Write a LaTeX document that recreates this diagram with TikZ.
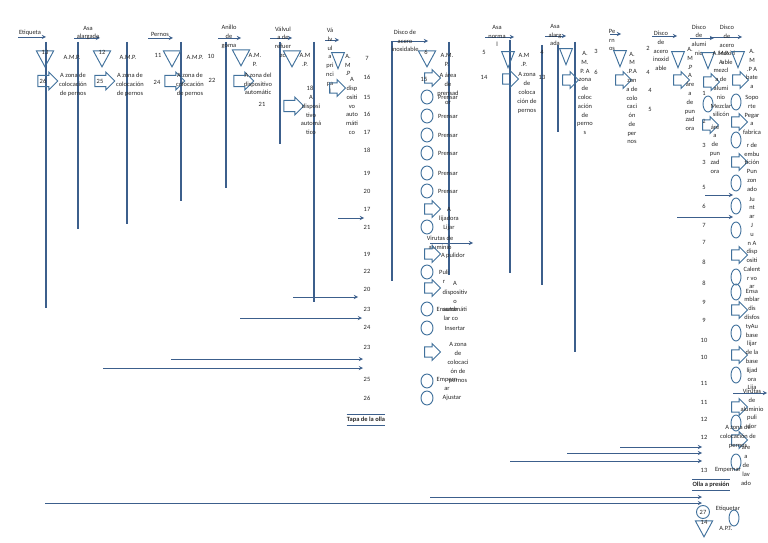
\documentclass[tikz,border=0pt]{standalone}
\usepackage{fontspec}
\setmainfont{Carlito}
\usetikzlibrary{shapes.geometric,shapes.arrows}
\definecolor{linea}{RGB}{60,95,140}
\definecolor{forma}{RGB}{65,113,156}

\begin{document}
\begin{tikzpicture}[x=0.3mm, y=-0.3mm,
  every node/.style={font=\fontsize{5.5}{7.5}\selectfont, text=black!85, inner sep=0pt, align=center},
  vert/.style={draw=linea, line width=1.2pt},
  flujo/.style={draw=linea, line width=0.6pt, ->, >=stealth},
  raya/.style={draw=linea, line width=1.2pt},
  tri/.style={draw=forma, line width=0.8pt, isosceles triangle, isosceles triangle stretches, shape border rotate=270, minimum width=5.2mm, minimum height=4.8mm},
  tric/.style={tri, minimum width=3.8mm},
  flecha/.style={draw=forma, line width=0.8pt, single arrow, minimum height=6mm, minimum width=5.4mm, inner xsep=0pt, inner ysep=1.5mm, single arrow head extend=1mm},
  flechac/.style={flecha, minimum height=4.8mm, minimum width=5mm, inner ysep=1.4mm},
  op/.style={draw=forma, line width=0.8pt, ellipse, minimum width=3.6mm, minimum height=4.2mm},
  opc/.style={op, minimum width=3mm, minimum height=4.8mm},
  titulo/.style={font=\fontsize{5.5}{7.5}\selectfont\bfseries}]

  \useasboundingbox (0,0) rectangle (768,543);

  % lineas verticales
  \coordinate (v1a) at (46,42); \coordinate (v1b) at (46,308);
  \coordinate (v2a) at (78,42); \coordinate (v2b) at (78,229);
  \coordinate (v3a) at (127,42); \coordinate (v3b) at (127,224);
  \coordinate (v4a) at (181,42); \coordinate (v4b) at (181,201);
  \coordinate (v5a) at (226,42); \coordinate (v5b) at (226,188);
  \coordinate (v6a) at (280,42); \coordinate (v6b) at (280,144);
  \coordinate (v7a) at (314,42); \coordinate (v7b) at (314,302);
  \coordinate (v8a) at (392,41); \coordinate (v8b) at (392,281);
  \coordinate (v9a) at (449,42); \coordinate (v9b) at (449,275);
  \coordinate (v10a) at (510,40); \coordinate (v10b) at (510,273);
  \coordinate (v11a) at (542,45); \coordinate (v11b) at (542,285);
  \coordinate (v12a) at (558,45); \coordinate (v12b) at (558,132);
  \coordinate (v13a) at (575,42); \coordinate (v13b) at (575,352);

  \draw[vert] (v1a) -- (v1b);
  \draw[vert] (v2a) -- (v2b);
  \draw[vert] (v3a) -- (v3b);
  \draw[vert] (v4a) -- (v4b);
  \draw[vert] (v5a) -- (v5b);
  \draw[vert] (v6a) -- (v6b);
  \draw[vert] (v7a) -- (v7b);
  \draw[vert] (v8a) -- (v8b);
  \draw[vert] (v9a) -- (v9b);
  \draw[vert] (v10a) -- (v10b);
  \draw[vert] (v11a) -- (v11b);
  \draw[vert] (v12a) -- (v12b);
  \draw[vert] (v13a) -- (v13b);

  % entradas de arriba
  \coordinate (e1a) at (18,37); \coordinate (e1b) at (46,37);
  \coordinate (e2a) at (74,38); \coordinate (e2b) at (100,38);
  \coordinate (e3a) at (148,38); \coordinate (e3b) at (173,38);
  \coordinate (e4a) at (218,38); \coordinate (e4b) at (241,38);
  \coordinate (e5a) at (270,38); \coordinate (e5b) at (292,38);
  \coordinate (e6a) at (325,40); \coordinate (e6b) at (339,40);
  \coordinate (e7a) at (392,41); \coordinate (e7b) at (428,41);
  \coordinate (e8a) at (485,37); \coordinate (e8b) at (514,37);
  \coordinate (e9a) at (545,36); \coordinate (e9b) at (566,36);
  \coordinate (e10a) at (610,34); \coordinate (e10b) at (621,34);
  \coordinate (e11a) at (652,36); \coordinate (e11b) at (677,36);
  \coordinate (e12a) at (690,38); \coordinate (e12b) at (714,38);
  \coordinate (e13a) at (710,37); \coordinate (e13b) at (742,37);

  \draw[flujo] (e1a) -- (e1b);
  \draw[flujo] (e2a) -- (e2b);
  \draw[flujo] (e3a) -- (e3b);
  \draw[flujo] (e4a) -- (e4b);
  \draw[flujo] (e5a) -- (e5b);
  \draw[flujo] (e6a) -- (e6b);
  \draw[flujo] (e7a) -- (e7b);
  \draw[flujo] (e8a) -- (e8b);
  \draw[flujo] (e9a) -- (e9b);
  \draw[flujo] (e10a) -- (e10b);
  \draw[flujo] (e11a) -- (e11b);
  \draw[flujo] (e12a) -- (e12b);
  \draw[flujo] (e13a) -- (e13b);

  % Etiqueta
  \node (eti) at (30,33) {Etiqueta};
  \node[tri] (t1) at (45,56) {};
  \node (n13a) at (45,52) {13};
  \node (amp1) at (72,57) {A.M.P.};
  \node[flecha] (f1) at (45,81) {};
  \node (n26) at (43,81) {26};
  \node (dest1) at (73,85) {A zona de\\colocación\\de pernos};

  % Asa alargada
  \node (asa1) at (88,33) {Asa\\alargada};
  \node[tri] (t2) at (102,56) {};
  \node (n12a) at (102,52) {12};
  \node (amp2) at (128,57) {A.M.P.};
  \node[flecha] (f2) at (102,81) {};
  \node (n25) at (100,81) {25};
  \node (dest2) at (130,85) {A zona de\\colocación\\de pernos};

  % Pernos
  \node (per1) at (160,34) {Pernos};
  \node (n11) at (158,55) {11};
  \node[tri] (t3) at (172,56) {};
  \node (amp3) at (195,57) {A.M.P.};
  \node (n24) at (157,82) {24};
  \node[flecha] (f3) at (172,81) {};
  \node (dest3) at (190,85) {A zona de\\colocación\\de pernos};

  % Anillo de goma
  \node (ani) at (229,37) {Anillo\\de\\goma};
  \node (n10) at (211,56) {10};
  \node[tri] (t4) at (241,55) {};
  \node (amp4) at (255,60) {A.M.\\P.};
  \node (n22a) at (212,80) {22};
  \node[flecha] (f4) at (241,81) {};
  \node (dest4) at (258,84) {A zona del\\dispositivo\\automátic};
  \node (n21a) at (262,104) {21};

  % Valvula de refuerzo
  \node (vre) at (283,42) {Válvul\\a de\\refuer\\zo};
  \node[tri] (t5) at (292,56) {};
  \node (amp5) at (305,60) {A.M\\.P.};
  \node (n18a) at (310,88) {18};
  \node[flecha] (f5) at (291,106) {};
  \node (dest5) at (311,115) {A\\disposi\\tivo\\automá\\tico};

  % Valvula principal
  \node (vpr) at (330,61) {Vá\\lv\\ul\\a\\pri\\nci\\pa\\l};
  \node[tric] (t6) at (338,57) {};
  \node (amp6) at (348,65) {A.\\M\\.P};
  \node[flechac] (f6) at (335,88) {};
  \node (dest6) at (352,106) {A\\disp\\ositi\\vo\\auto\\máti\\co};

  % numeros de la tapa
  \node (c1) at (367,58) {7};
  \node (c2) at (367,77) {16};
  \node (c3) at (367,97) {15};
  \node (c4) at (367,114) {16};
  \node (c5) at (367,132) {17};
  \node (c6) at (367,150) {18};
  \node (c7) at (367,173) {19};
  \node (c8) at (367,191) {20};
  \node (c9) at (367,209) {17};
  \node (c10) at (367,227) {21};
  \node (c11) at (367,254) {19};
  \node (c12) at (367,271) {22};
  \node (c13) at (367,289) {20};
  \node (c14) at (367,309) {23};
  \node (c15) at (367,327) {24};
  \node (c16) at (367,347) {23};
  \node (c17) at (367,379) {25};
  \node (c18) at (367,398) {26};

  % Disco de acero inoxidable
  \node (dac1) at (405,41) {Disco de\\acero\\inoxidable};
  \node[tri] (t7) at (427,56) {};
  \node (n6a) at (426,52) {6};
  \node (amp7) at (447,60) {A.M.\\P.};
  \node[flechac] (f7) at (430,78) {};
  \node (n15a) at (424,79) {15};
  \node (dest7) at (448,89) {A área\\de\\prensad\\or};
  \node[op] (p1) at (427,97) {};
  \node (pr1) at (448,97) {Prensar};
  \node[op] (p2) at (427,116) {};
  \node (pr2) at (448,116) {Prensar};
  \node[op] (p3) at (427,135) {};
  \node (pr3) at (448,135) {Prensar};
  \node[op] (p4) at (427,153) {};
  \node (pr4) at (448,153) {Prensar};
  \node[op] (p5) at (427,173) {};
  \node (pr5) at (448,173) {Prensar};
  \node[op] (p6) at (427,191) {};
  \node (pr6) at (448,191) {Prensar};
  \node[flechac] (f8) at (430,209) {};
  \node (lij) at (449,219) {A\\lijadora\\Lijar};
  \node[op] (p7) at (427,227) {};
  \node (vir1) at (440,243) {Virutas de\\aluminio};
  \node[flechac] (f9) at (430,254) {};
  \node (pul) at (453,256) {A pulidor};
  \node[op] (p8) at (427,272) {};
  \node (pulir) at (444,277) {Puli\\r};
  \node[flechac] (f10) at (430,288) {};
  \node (dest8) at (455,301) {A\\dispositiv\\o\\automáti\\co};
  \node[op] (p9) at (427,309) {};
  \node (ens) at (447,314) {Ensamb\\lar};
  \node[op] (p10) at (427,328) {};
  \node (ins) at (455,328) {Insertar};
  \node[flechac] (f11) at (430,352) {};
  \node (dest9) at (458,363) {A zona\\de\\colocaci\\ón de\\pernos};
  \node[op] (p11) at (427,381) {};
  \node (emp1) at (447,384) {Empern\\ar};
  \node[op] (p12) at (427,398) {};
  \node (aju) at (452,398) {Ajustar};

  \node[titulo] (tapa) at (366,420) {Tapa de la olla};
  \draw[raya] ([yshift=0.8mm]tapa.north west) -- ([yshift=0.8mm]tapa.north east);
  \draw[raya] ([yshift=-0.8mm]tapa.south west) -- ([yshift=-0.8mm]tapa.south east);

  % Asa normal
  \node (asa2) at (497,36) {Asa\\norma\\l};
  \node (n5a) at (484,52) {5};
  \node[tric] (t8) at (508,56) {};
  \node (amp8) at (524,60) {A.M\\.P.};
  \node (n14a) at (484,77) {14};
  \node[flechac] (f12) at (508,79) {};
  \node (dest10) at (527,93) {A zona\\de\\coloca\\ción de\\pernos};

  % Asa alargada
  \node (asa3) at (555,35) {Asa\\alarg\\ada};
  \node (n4a) at (542,52) {4};
  \node (n13b) at (542,77) {13};
  \node[tric] (t9) at (566,53) {};
  \node[flechac] (f13) at (568,80) {};
  \node (dest11) at (585,93) {A.\\M.\\P. A\\zona\\de\\coloc\\ación\\de\\perno\\s};
  \node (n3a) at (596,51) {3};
  \node (n6b) at (596,72) {6};

  % Pernos
  \node (per2) at (612,40) {Pe\\rn\\os};
  \node[tric] (t10) at (620,55) {};
  \node[flechac] (f14) at (621,80) {};
  \node (dest12) at (632,98) {A.\\M\\.P.A\\zon\\a de\\colo\\caci\\ón\\de\\per\\nos};
  \node (n2a) at (648,48) {2};
  \node (n4b) at (648,72) {4};
  \node (n4c) at (650,90) {4};
  \node (n5b) at (650,109) {5};

  % Disco de acero inoxidable
  \node (dac2) at (661,51) {Disco\\de\\acero\\inoxid\\able};
  \node[tric] (t11) at (678,56) {};
  \node[flechac] (f15) at (679,80) {};
  \node (dest13) at (690,89) {A.\\M\\.P\\A\\áre\\a\\de\\pun\\zad\\ora};

  % numeros de la olla
  \node (d1) at (704,93) {1};
  \node (d2) at (704,121) {2};
  \node (d3) at (704,145) {3};
  \node (d4) at (704,162) {3};
  \node (d5) at (704,187) {5};
  \node (d6) at (704,206) {6};
  \node (d7) at (704,225) {7};
  \node (d8) at (704,242) {7};
  \node (d9) at (704,262) {8};
  \node (d10) at (704,283) {8};
  \node (d11) at (704,302) {9};
  \node (d12) at (704,320) {9};
  \node (d13) at (704,340) {10};
  \node (d14) at (704,357) {10};
  \node (d15) at (704,383) {11};
  \node (d16) at (704,402) {11};
  \node (d17) at (704,419) {12};
  \node (d18) at (704,437) {12};
  \node (d19) at (704,470) {13};

  % Disco de aluminio
  \node (dal) at (699,40) {Disco\\de\\alumi\\nio};
  \node[tric] (t12) at (708,57) {};
  \node[flechac] (f16) at (709,82) {};
  \node[opc] (p13) at (708,104) {};
  \node[flechac] (f17) at (708,125) {};
  \node (dest14) at (721,84) {A.M.P.\\A\\mezcl\\a de\\alumi\\nio\\Mezclar\\silicón};
  \node (dest15) at (715,149) {áre\\a\\de\\pun\\zad\\ora};

  % Disco de acero inoxidable
  \node (dac3) at (727,45) {Disco\\de\\acero\\inoxid\\able};
  \node[tric] (t13) at (738,56) {};
  \node[flechac] (f18) at (738,80) {};
  \node[opc] (q1) at (736,102) {};
  \node[flechac] (f19) at (737,122) {};
  \node[opc] (q2) at (736,140) {};
  \node[flechac] (f20) at (737,162) {};
  \node[opc] (q3) at (736,183) {};
  \node[opc] (q4) at (736,206) {};
  \node[opc] (q5) at (736,230) {};
  \node[flechac] (f21) at (737,255) {};
  \node[opc] (q6) at (736,277) {};
  \node[opc] (q7) at (736,292) {};
  \node[flechac] (f22) at (737,310) {};
  \node[opc] (q8) at (736,333) {};
  \node[flechac] (f23) at (737,355) {};
  \node[opc] (q9) at (736,375) {};
  \node[flechac] (f24) at (737,407) {};
  \node[opc] (q10) at (736,423) {};
  \node[flechac] (f25) at (737,440) {};
  \node[opc] (q11) at (736,462) {};
  \node[opc] (q12) at (734,518) {};
  \node (dest16) at (752,69) {A.\\M\\.P A\\bate\\a};
  \node (dest17) at (752,115) {Sopo\\rte\\Pegar\\a\\fabrica};
  \node (dest18) at (752,167) {r de\\embu\\tición\\Pun\\zon\\ado};
  \node (dest19) at (752,243) {Ju\\nt\\ar\\J\\u\\n A\\disp\\ositi\\Calent\\r vo\\ar};
  \node (dest20) at (752,340) {Ensa\\mblar\\dis\\disfos\\tyAu\\base\\lijar\\de la\\base\\lijad\\ora\\Lija};
  \node (vir2) at (752,409) {Virutas\\de\\aluminio\\puli\\dor};
  \node (dest21) at (738,437) {A zona de\\colocación de\\pernos};
  \node (dest22) at (746,466) {are\\a\\de\\lav\\ado};
  \node (emp2) at (728,470) {Empernar};

  \node[titulo] (olla) at (711,485) {Olla a presión};
  \draw[raya] ([yshift=0.8mm]olla.north west) -- ([yshift=0.8mm]olla.north east);
  \draw[raya] ([yshift=-0.8mm]olla.south west) -- ([yshift=-0.8mm]olla.south east);

  \node[circle, draw=forma, line width=0.8pt, minimum size=3.9mm] (c27) at (703,512) {27};
  \node (etq) at (728,509) {Etiquetar};
  \node[tri] (t14) at (704,526) {};
  \node (n14b) at (704,522) {14};
  \node (apt) at (726,528) {A.P.T.};

  % entradas laterales
  \coordinate (h1a) at (338,218); \coordinate (h1b) at (364,218);
  \coordinate (h2a) at (293,297); \coordinate (h2b) at (358,297);
  \coordinate (h3a) at (240,318); \coordinate (h3b) at (362,318);
  \coordinate (h4a) at (171,359); \coordinate (h4b) at (363,359);
  \coordinate (h5a) at (103,368); \coordinate (h5b) at (363,368);
  \coordinate (h6a) at (430,243); \coordinate (h6b) at (473,243);
  \coordinate (h7a) at (705,195); \coordinate (h7b) at (733,195);
  \coordinate (h8a) at (677,217); \coordinate (h8b) at (733,217);
  \coordinate (h9a) at (733,393); \coordinate (h9b) at (767,393);
  \coordinate (h10a) at (620,447); \coordinate (h10b) at (702,447);
  \coordinate (h11a) at (567,453); \coordinate (h11b) at (702,453);
  \coordinate (h12a) at (510,461); \coordinate (h12b) at (702,461);
  \coordinate (h13a) at (430,497); \coordinate (h13b) at (702,497);
  \coordinate (h14a) at (45,503); \coordinate (h14b) at (702,503);

  \draw[flujo] (h1a) -- (h1b);
  \draw[flujo] (h2a) -- (h2b);
  \draw[flujo] (h3a) -- (h3b);
  \draw[flujo] (h4a) -- (h4b);
  \draw[flujo] (h5a) -- (h5b);
  \draw[flujo] (h6a) -- (h6b);
  \draw[flujo] (h7a) -- (h7b);
  \draw[flujo] (h8a) -- (h8b);
  \draw[flujo] (h9a) -- (h9b);
  \draw[flujo] (h10a) -- (h10b);
  \draw[flujo] (h11a) -- (h11b);
  \draw[flujo] (h12a) -- (h12b);
  \draw[flujo] (h13a) -- (h13b);
  \draw[flujo] (h14a) -- (h14b);

\end{tikzpicture}
\end{document}
